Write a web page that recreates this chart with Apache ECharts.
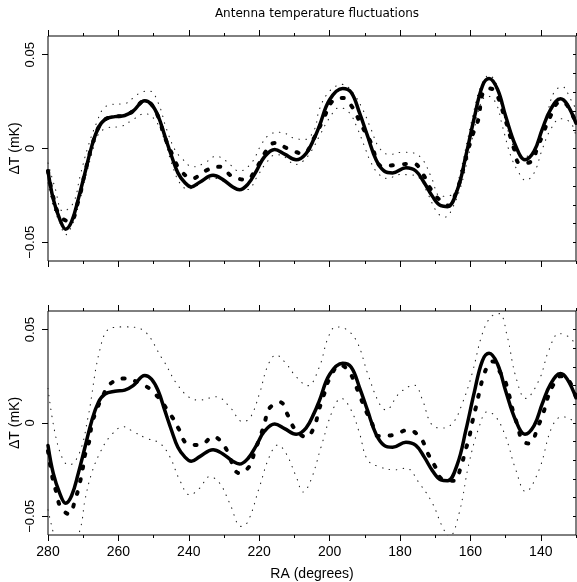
<!DOCTYPE html>
<html>
<head>
<meta charset="utf-8">
<script src="https://cdn.jsdelivr.net/npm/echarts@6/dist/echarts.min.js"></script>
<style>
  html, body { margin: 0; padding: 0; background: #fff; }
  #chart { width: 577px; height: 582px; }
</style>
</head>
<body>
<div id="chart"></div>
<script>
// tick values
const raMajor = [280, 260, 240, 220, 200, 180, 160, 140];
const raMinor = [270, 250, 230, 210, 190, 170, 150, 130];
const dtMajor = [-0.05, 0, 0.05];
const dtMinor = [-0.05, -0.04, -0.03, -0.02, -0.01, 0, 0.01, 0.02, 0.03, 0.04, 0.05];

// solid curve (same in both panels)
const raSolid = [280, 278.5, 276.6, 275, 273.3, 271.4, 269.5, 267.6, 265.7, 263.8, 261, 258.2, 255.8, 252.5, 250.6, 248.7, 246.8, 244.9, 243.1, 241.2, 239.3, 236.9, 233.1, 230.3, 227.5, 225.6, 223.2, 220.8, 218.5, 215.6, 212.8, 209.5, 206.7, 204.3, 202.9, 200, 196.3, 193.9, 191.5, 189.2, 186.8, 184.5, 182.1, 178.3, 175.5, 173.1, 170.8, 168.4, 166.5, 163.7, 161.3, 158.9, 156.6, 154.7, 152.3, 150, 147.1, 144.5, 141.9, 139.6, 137.2, 134.4, 132.5, 130];
const dtSolid = [-0.012, -0.027, -0.038, -0.043, -0.039, -0.027, -0.013, 0.001, 0.011, 0.0155, 0.017, 0.0176, 0.020, 0.0255, 0.0235, 0.0173, 0.0066, -0.004, -0.013, -0.018, -0.0205, -0.018, -0.0143, -0.0166, -0.0205, -0.022, -0.019, -0.012, -0.0044, -0.0005, -0.003, -0.006, -0.0027, 0.0057, 0.012, 0.026, 0.032, 0.030, 0.019, 0.0066, -0.006, -0.012, -0.013, -0.0103, -0.012, -0.0183, -0.0255, -0.0305, -0.031, -0.022, -0.004, 0.0164, 0.0333, 0.0373, 0.0316, 0.0173, 0.0012, -0.006, -0.0014, 0.0102, 0.0209, 0.0265, 0.0235, 0.0135];

// top panel: thick dotted estimate and thin dotted bounds
const raFitTop = [280, 278.5, 276.6, 273.8, 271.4, 269.5, 267.6, 265.7, 263.8, 261, 258.2, 255.8, 252.5, 250.6, 248.7, 246.8, 244.5, 242.6, 239, 235.2, 231.2, 227.6, 223.7, 220.6, 218.5, 215.6, 211.9, 207.6, 204.3, 201.7, 199.1, 196.3, 193.9, 190.9, 188.5, 185, 180.7, 176.2, 173.4, 171.5, 168.4, 166, 164.1, 162.7, 160.5, 159.1, 157.7, 156.6, 155, 153, 150.1, 147.6, 145.9, 142.6, 141, 139.3, 137.7, 134.4, 132.5, 130];
const dtFitTop = [-0.012, -0.026, -0.036, -0.039, -0.028, -0.013, 0.001, 0.011, 0.0155, 0.017, 0.0176, 0.020, 0.0255, 0.0235, 0.017, 0.006, -0.004, -0.011, -0.016, -0.0118, -0.0097, -0.015, -0.0166, -0.0098, -0.0027, 0.003, 0.000, -0.0027, 0.006, 0.016, 0.0255, 0.027, 0.023, 0.0123, 0.004, -0.0095, -0.0087, -0.008, -0.0139, -0.021, -0.028, -0.0305, -0.0237, -0.0157, 0.0004, 0.0087, 0.0159, 0.029, 0.032, 0.0306, 0.0155, -0.0002, -0.008, -0.0068, 0.0004, 0.008, 0.0155, 0.025, 0.023, 0.0135];

const raUpTop = [280, 278, 275.7, 272.8, 270.9, 268.6, 266.2, 264.3, 261.9, 258.2, 255.8, 253.4, 251.1, 248.7, 246.3, 244, 242.1, 238.8, 235.5, 232.2, 229.3, 225.6, 222.2, 219.4, 217, 213.7, 210.4, 207.1, 204.3, 202.9, 200, 196.3, 193.4, 190.6, 188.2, 185.9, 183, 179.3, 176.4, 173.6, 171.2, 168.4, 165.1, 162.7, 160.8, 158.9, 157, 154.7, 152.8, 150.9, 148.5, 146.2, 143.3, 141, 138.6, 136.3, 133.9, 131.5, 130];
const dtUpTop = [-0.0077, -0.021, -0.0335, -0.029, -0.0148, 0.0012, 0.0137, 0.0212, 0.0235, 0.0239, 0.027, 0.0301, 0.0306, 0.0244, 0.0102, -0.0005, -0.005, -0.0098, -0.0077, -0.0041, -0.0068, -0.0121, -0.0077, 0.0021, 0.0075, 0.0087, 0.0057, 0.0048, 0.0102, 0.0209, 0.0306, 0.0342, 0.0298, 0.0209, 0.0102, 0.0004, -0.0032, -0.002, -0.0023, -0.0059, -0.0148, -0.0255, -0.0246, -0.0112, 0.0048, 0.0209, 0.0333, 0.039, 0.0351, 0.0209, 0.0048, -0.0032, -0.0041, 0.003, 0.0155, 0.0298, 0.033, 0.0262, 0.021];

const raLoTop = [280, 278.5, 276.6, 275, 273.3, 271.4, 269.5, 267.6, 265.7, 262.9, 259.1, 255.8, 252.5, 249.7, 247.3, 244.9, 242.6, 240.2, 238.3, 235, 232, 229, 226, 223.2, 220.8, 218, 215.2, 212.3, 210, 207.6, 205.2, 202.9, 200, 197.2, 194.4, 192, 190.1, 188.2, 185.9, 183.5, 180.2, 177.5, 174.5, 172.2, 169.3, 167, 165.1, 162.7, 160.8, 158.9, 157, 155.2, 152.8, 150.9, 148.5, 146.2, 144.3, 141.9, 139.6, 137.2, 134.4, 131.5, 130];
const dtLoTop = [-0.0183, -0.0309, -0.0397, -0.046, -0.0415, -0.0309, -0.0166, -0.0032, 0.0075, 0.0111, 0.0119, 0.0155, 0.0186, 0.0155, 0.0066, -0.0077, -0.0183, -0.0216, -0.0205, -0.0166, -0.016, -0.019, -0.022, -0.0219, -0.0157, -0.0077, -0.0032, -0.005, -0.0086, -0.0068, -0.0014, 0.0066, 0.0164, 0.0218, 0.0191, 0.0102, 0.0012, -0.0077, -0.0139, -0.016, -0.0139, -0.014, -0.0157, -0.0237, -0.0344, -0.0365, -0.0317, -0.0201, -0.0059, 0.0102, 0.0244, 0.028, 0.0244, 0.0119, -0.0041, -0.013, -0.017, -0.013, -0.0005, 0.0102, 0.0159, 0.0137, 0.0066];

// bottom panel: thick dotted estimate and thin dotted bounds
const raFitBot = [280, 278.7, 277.6, 276.4, 274, 272.3, 271.1, 270.2, 269.5, 268.2, 267.6, 266.2, 264.5, 262.4, 258.2, 253.9, 250.1, 244.9, 242.8, 240.5, 236.7, 233.1, 229.8, 225.6, 222.7, 221.3, 219.7, 218.5, 217.1, 214, 211.9, 209.8, 206.6, 204.3, 203.1, 201.7, 200.2, 197, 194.4, 191.5, 190, 188, 186.2, 181.8, 177.7, 174.1, 172.2, 170.1, 168, 164.6, 162.7, 161.5, 160.3, 159.5, 158.5, 157.5, 156.4, 154.7, 153.5, 151.5, 150.4, 149, 148, 146.5, 145.4, 143.5, 142.4, 141, 139.3, 138.2, 136.5, 134.5, 132.5, 130];
const dtFitBot = [-0.015, -0.0296, -0.0373, -0.0451, -0.0488, -0.0412, -0.0332, -0.0251, -0.0171, -0.0091, -0.0011, 0.007, 0.0141, 0.0209, 0.0239, 0.0212, 0.0167, 0.0037, -0.0034, -0.0109, -0.0118, -0.0073, -0.0127, -0.0269, -0.023, -0.0153, -0.0073, -0.0002, 0.0079, 0.0111, 0.0043, -0.0034, -0.0075, -0.0016, 0.0066, 0.0146, 0.023, 0.031, 0.0274, 0.015, 0.0079, 0.000, -0.007, -0.0064, -0.0037, -0.0082, -0.0159, -0.023, -0.0301, -0.0309, -0.0234, -0.0153, -0.0073, 0.0002, 0.008, 0.0162, 0.0244, 0.0319, 0.033, 0.027, 0.0239, 0.015, 0.007, -0.002, -0.0087, -0.011, -0.010, -0.0029, 0.0052, 0.0127, 0.0203, 0.025, 0.024, 0.014];

const raUpBot = [280, 278, 275.7, 274, 271.1, 268.6, 265.3, 262.4, 258.2, 253.9, 247.3, 243.5, 239.7, 236.9, 232.2, 228.4, 224.6, 222.5, 219.9, 217.5, 215.2, 212.4, 209.5, 206.2, 202.9, 200.5, 198.2, 194.9, 192, 189.2, 185.9, 184, 180.2, 176, 173.6, 171.2, 168.4, 165.1, 162.3, 159.5, 156.6, 154.2, 151.8, 149.5, 147.1, 144.3, 140.5, 137.7, 134.8, 132, 130];
const dtUpBot = [0.0185, -0.0055, -0.0198, -0.0225, -0.0162, 0.0034, 0.039, 0.0506, 0.0515, 0.0506, 0.0337, 0.0212, 0.0135, 0.0123, 0.0141, 0.0087, 0.0007, 0.003, 0.0159, 0.031, 0.0364, 0.0319, 0.0248, 0.020, 0.0301, 0.0453, 0.0515, 0.0497, 0.0426, 0.0266, 0.0105, 0.007, 0.0159, 0.0203, 0.0123, -0.0002, -0.0028, -0.0002, 0.0105, 0.0266, 0.0479, 0.0568, 0.0586, 0.0461, 0.0248, 0.0132, 0.023, 0.039, 0.0479, 0.0461, 0.0417];

const raLoBot = [280, 278.7, 277.5, 274, 270.9, 269.5, 267.6, 265.3, 262.4, 258.6, 255.8, 252, 248.2, 245.4, 242.6, 239.7, 236.9, 234.1, 231.2, 228.4, 225.1, 223.2, 219.9, 217.1, 214.7, 212.4, 209.5, 207.5, 205.3, 202.4, 199.1, 196.7, 193.9, 191.5, 189.2, 185.9, 181.6, 178.3, 174.5, 170.8, 168, 166, 163.2, 160.4, 157.5, 155.2, 152.8, 150, 147.1, 144.3, 140.5, 136.8, 133.9, 131.1, 130];
const dtLoBot = [-0.0465, -0.0572, -0.065, -0.07, -0.0572, -0.0412, -0.0269, -0.0162, -0.0073, -0.002, -0.0046, -0.0082, -0.0109, -0.018, -0.0305, -0.0385, -0.0349, -0.0287, -0.0323, -0.0429, -0.0554, -0.0528, -0.0341, -0.018, -0.0118, -0.0162, -0.0287, -0.037, -0.0305, -0.0127, 0.007, 0.0132, 0.007, -0.0055, -0.0198, -0.0234, -0.0251, -0.0242, -0.0323, -0.0429, -0.0554, -0.061, -0.0483, -0.0216, -0.002, 0.006, 0.0034, -0.0073, -0.0251, -0.0367, -0.0251, -0.002, 0.0034, 0.0016, 0.0005];

const zip = (xs, ys) => xs.map((x, i) => [x, ys[i]]);

const FONT = 'Liberation Sans';
const grids = [
  { left: 48, top: 36, width: 528, height: 225 },
  { left: 48, top: 311, width: 528, height: 224 }
];

const xAxes = [];
const yAxes = [];
grids.forEach((g, gi) => {
  const isBottom = gi === 1;
  const base = {
    gridIndex: gi, type: 'value', min: 130, max: 280, inverse: true,
    axisLine: { show: false, onZero: false }, splitLine: { show: false }
  };
  ['bottom', 'top'].forEach(pos => {
    xAxes.push(Object.assign({}, base, {
      position: pos,
      axisTick: { show: true, inside: false, length: 6, customValues: raMajor, lineStyle: { color: '#000' } },
      axisLabel: (pos === 'bottom' && isBottom)
        ? { show: true, customValues: raMajor, margin: 10, fontFamily: FONT, fontSize: 14, color: '#000' }
        : { show: false },
      name: (pos === 'bottom' && isBottom) ? 'RA (degrees)' : '',
      nameLocation: 'middle', nameGap: 32, nameMoveOverlap: false,
      nameTextStyle: { fontFamily: FONT, fontSize: 14, color: '#000' }
    }));
    xAxes.push(Object.assign({}, base, {
      position: pos,
      axisTick: { show: true, inside: false, length: 3, customValues: raMinor, lineStyle: { color: '#000' } },
      axisLabel: { show: false }
    }));
  });
  const yBase = {
    gridIndex: gi, type: 'value', min: -0.06, max: 0.06,
    axisLine: { show: false, onZero: false }, splitLine: { show: false }
  };
  yAxes.push(Object.assign({}, yBase, {
    position: 'left',
    axisTick: { show: true, inside: false, length: 6, customValues: dtMajor, lineStyle: { color: '#000' } },
    axisLabel: {
      show: true, customValues: dtMajor, rotate: 90, margin: 11,
      fontFamily: FONT, fontSize: 13, color: '#000',
      formatter: v => v === 0 ? '0' : (v < 0 ? '\u2212' + Math.abs(v).toFixed(2) : v.toFixed(2))
    },
    name: '\u0394T (mK)', nameLocation: 'middle', nameRotate: 90, nameGap: 26, nameMoveOverlap: false,
    nameTextStyle: { fontFamily: FONT, fontSize: 14, color: '#000' }
  }));
  yAxes.push(Object.assign({}, yBase, {
    position: 'right',
    axisTick: { show: true, inside: true, length: 3, customValues: dtMinor, lineStyle: { color: '#000' } },
    axisLabel: { show: false }
  }));
});

const thin = { color: '#222', width: 1.1, type: [0.5, 6.5], cap: 'round' };
const thick = { color: '#000', width: 4, type: [2, 11], cap: 'round' };
const solid = { color: '#000', width: 3.5, type: 'solid', cap: 'round', join: 'round' };

function line(gi, data, style) {
  return {
    type: 'line', xAxisIndex: gi * 4, yAxisIndex: gi * 2, data,
    smooth: 0.4, showSymbol: false, symbol: 'none', clip: true,
    lineStyle: style, silent: true, animation: false, z: style === solid ? 5 : 3
  };
}

const series = [
  line(0, zip(raUpTop, dtUpTop), thin),
  line(0, zip(raLoTop, dtLoTop), thin),
  line(0, zip(raFitTop, dtFitTop), thick),
  line(0, zip(raSolid, dtSolid), solid),
  line(1, zip(raUpBot, dtUpBot), thin),
  line(1, zip(raLoBot, dtLoBot), thin),
  line(1, zip(raFitBot, dtFitBot), thick),
  line(1, zip(raSolid, dtSolid), solid)
];

const chart = echarts.init(document.getElementById('chart'), null, { renderer: 'canvas' });
chart.setOption({
  animation: false,
  backgroundColor: '#fff',
  title: {
    text: 'Antenna temperature fluctuations',
    left: 312, top: 3, textAlign: 'center',
    textStyle: { fontFamily: 'DejaVu Sans', fontSize: 12, fontWeight: 'normal', color: '#000' }
  },
  grid: grids.map(g => Object.assign({
    show: true, borderColor: '#000', borderWidth: 1, backgroundColor: 'transparent',
    containLabel: false, outerBoundsMode: 'none'
  }, g)),
  xAxis: xAxes,
  yAxis: yAxes,
  series
});
</script>
</body>
</html>
